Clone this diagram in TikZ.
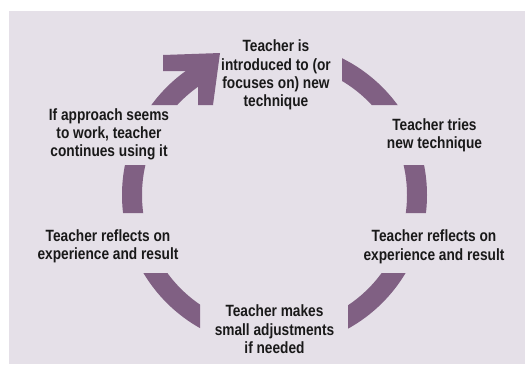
\documentclass[tikz,border=0pt]{standalone}
\usepackage{fontspec}
\setmainfont{Liberation Sans}[FakeStretch=0.84]
\definecolor{panel}{RGB}{229,224,232}
\definecolor{ringc}{RGB}{128,96,131}
\begin{document}
\begin{tikzpicture}[x=1pt,y=-1pt,
  lbl/.style={align=center,font=\bfseries\fontsize{16.3}{18.3}\selectfont,inner sep=0pt,anchor=base,text=black!90}]
\useasboundingbox (0,0) rectangle (525,365);
\fill[panel] (9,11) rectangle (525,364);
\coordinate (c) at (274.5,195);
\begin{scope}
  \clip (0,0) rectangle (198,105) (342,0) rectangle (525,105)
        (0,165) rectangle (525,213)
        (0,273) rectangle (200,365) (348,273) rectangle (525,365);
  \fill[ringc, even odd rule] (c) circle[radius=152.5] (c) circle[radius=132.5];
\end{scope}
\fill[ringc] (163,55) -- (220,53) -- (213,105) -- (198,105) -- (198,71) -- (163,71) -- cycle;
\node[lbl] (top) at (276,106.6) {Teacher is\\introduced to (or\\focuses on) new\\technique};
\node[lbl] (tries) at (434.5,148.3) {Teacher tries\\new technique};
\node[lbl] (rr) at (434,260) {Teacher reflects on\\experience and result};
\node[lbl] (adj) at (274.5,353.3) {Teacher makes\\small adjustments\\if needed};
\node[lbl] (rl) at (108,259.3) {Teacher reflects on\\experience and result};
\node[lbl] (cont) at (109,156.6) {If approach seems\\to work, teacher\\continues using it};
\end{tikzpicture}
\end{document}
